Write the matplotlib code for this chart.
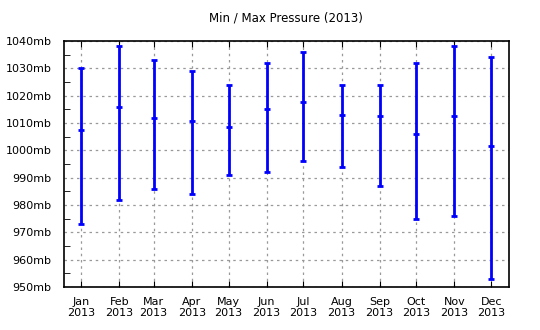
import datetime as dt
import numpy as np
import matplotlib
matplotlib.use("Agg")
import matplotlib.pyplot as plt
from matplotlib.ticker import MultipleLocator, FuncFormatter

months = ['Jan', 'Feb', 'Mar', 'Apr', 'May', 'Jun',
          'Jul', 'Aug', 'Sep', 'Oct', 'Nov', 'Dec']
year = 2013
p_min = [973, 982, 986, 984, 991, 992, 996, 994, 987, 975, 976, 953]
p_avg = [1007.4, 1015.9, 1011.8, 1010.8, 1008.5, 1015.1,
         1017.8, 1012.9, 1012.6, 1006.0, 1012.6, 1001.6]
p_max = [1030, 1038, 1033, 1029, 1024, 1032, 1036, 1024, 1024, 1032, 1038, 1034]

dates = [dt.date(year, m + 1, 1) for m in range(12)]
lo = np.array(p_avg) - np.array(p_min)
hi = np.array(p_max) - np.array(p_avg)

plt.rcParams['font.family'] = 'DejaVu Sans'
plt.rcParams['font.size'] = 8

fig = plt.figure(figsize=(5.4, 3.3), dpi=100)
ax = fig.add_axes([64 / 540, 1 - 287 / 330, 444.5 / 540, 246 / 330])

ax.errorbar(dates, p_avg, yerr=[lo, hi], fmt='_', color='#0000ff',
            ecolor='#0000ff', elinewidth=2, capsize=2.5, capthick=2,
            markersize=5, markeredgewidth=2, zorder=3)

ax.set_ylim(950, 1040)
ax.set_xlim(dates[0] - dt.timedelta(days=14), dates[-1] + dt.timedelta(days=14))
ax.yaxis.set_major_locator(MultipleLocator(10))
ax.yaxis.set_minor_locator(MultipleLocator(5))
ax.yaxis.set_major_formatter(FuncFormatter(lambda v, p: '%dmb' % v))
ax.set_xticks(dates)
ax.set_xticklabels(['%s\n%d' % (m, year) for m in months])

ax.tick_params(axis='x', direction='in', top=True, bottom=True, length=4, pad=7)
ax.tick_params(axis='y', which='both', direction='in', left=True, right=False, pad=9)
ax.tick_params(axis='y', which='major', length=0)
ax.tick_params(axis='y', which='minor', length=4)
for lbl in ax.get_xticklabels():
    lbl.set_linespacing(1.15)

ax.grid(True, color='#999999', linestyle=(0, (2, 3)), linewidth=0.9)
for s in ax.spines.values():
    s.set_linewidth(1.2)

fig.text(286 / 540, 1 - 18 / 330, 'Min / Max Pressure (2013)', ha='center', va='center', fontsize=8.5)

fig.savefig('out.png', dpi=100)
